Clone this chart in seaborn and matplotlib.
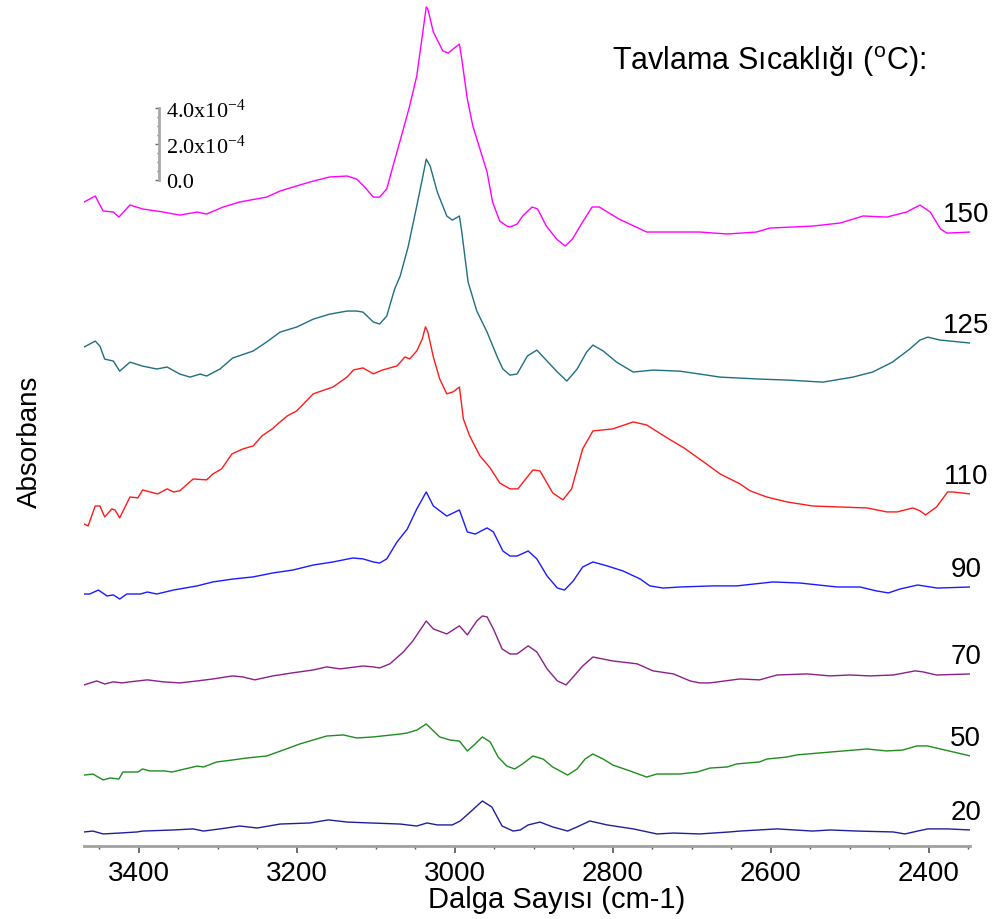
import numpy as np
import pandas as pd
import matplotlib
matplotlib.use("Agg")
import matplotlib.pyplot as plt
import seaborn as sns
from matplotlib.ticker import MultipleLocator

# ---------------- data (absorbance in units of 1e-4, relative to each trace's right-end baseline) ----
temps = ["150", "125", "110", "90", "70", "50", "20"]
offsets = [34.11, 27.94, 19.56, 14.39, 9.56, 5.0, 0.89]   # vertical stacking offsets (1e-4 units)
colors = ["#ff00ff", "#1f6e82", "#ff1a1a", "#1a1aff", "#8b1f8b", "#1f8c1f", "#1f1f99"]

wn_150 = [3469, 3455, 3445, 3432, 3425, 3411, 3395, 3369, 3348, 3326, 3314, 3293, 3272, 3238, 3221,
          3200, 3179, 3158, 3136, 3124, 3114, 3103, 3095, 3086, 3078, 3066, 3057, 3048, 3041, 3036,
          3034, 3027, 3015, 3008, 3002, 2994, 2991, 2984, 2977, 2968, 2959, 2952, 2943, 2934, 2930,
          2921, 2914, 2902, 2895, 2884, 2871, 2860, 2851, 2838, 2826, 2817, 2792, 2757, 2716, 2690,
          2655, 2618, 2601, 2547, 2512, 2483, 2453, 2428, 2411, 2398, 2385, 2377, 2347]
abs_150 = [1.67, 2.0, 1.17, 1.11, 0.83, 1.5, 1.28, 1.11, 0.94, 1.11, 1.0, 1.39, 1.67, 1.94, 2.28,
           2.56, 2.83, 3.06, 3.11, 2.94, 2.5, 1.94, 1.94, 2.39, 3.67, 5.56, 7.0, 8.67, 10.89, 12.5,
           12.39, 11.11, 10.06, 9.94, 10.17, 10.44, 9.61, 7.39, 5.89, 4.61, 3.33, 1.67, 0.61, 0.33, 0.28,
           0.44, 0.89, 1.39, 1.28, 0.33, -0.39, -0.78, -0.39, 0.56, 1.39, 1.39, 0.72, 0, 0, 0,
           -0.11, 0, 0.22, 0.33, 0.5, 0.89, 0.83, 1.11, 1.5, 1.11, 0.17, -0.06, 0]

wn_125 = [3469, 3455, 3449, 3443, 3432, 3424, 3411, 3395, 3377, 3364, 3348, 3335, 3322, 3314, 3297,
          3281, 3255, 3238, 3221, 3200, 3179, 3158, 3136, 3124, 3116, 3103, 3095, 3086, 3076, 3069,
          3059, 3048, 3041, 3036, 3031, 3022, 3010, 3003, 2994, 2991, 2983, 2972, 2959, 2946, 2939,
          2930, 2921, 2908, 2896, 2883, 2870, 2858, 2845, 2833, 2825, 2812, 2795, 2774, 2749, 2715,
          2690, 2664, 2614, 2576, 2534, 2496, 2471, 2446, 2424, 2411, 2401, 2386, 2347]
abs_125 = [-0.22, 0.11, -0.17, -0.89, -1.0, -1.56, -1.06, -1.28, -1.44, -1.33, -1.72, -1.89, -1.72, -1.83, -1.44,
           -0.83, -0.44, 0.06, 0.61, 0.89, 1.33, 1.61, 1.78, 1.78, 1.72, 1.17, 1.06, 1.5, 3.0, 3.72,
           5.33, 7.61, 9.11, 10.22, 9.83, 8.39, 7.06, 6.83, 7.06, 6.17, 3.39, 1.78, 0.61, -0.78, -1.44,
           -1.78, -1.72, -0.72, -0.39, -1.0, -1.61, -2.11, -1.44, -0.5, -0.11, -0.44, -1.06, -1.61, -1.5, -1.56,
           -1.72, -1.89, -2.0, -2.06, -2.17, -1.89, -1.61, -1.06, -0.33, 0.17, 0.33, 0.17, 0]

wn_110 = [3469, 3464, 3455, 3449, 3443, 3434, 3430, 3424, 3411, 3401, 3395, 3376, 3364, 3356, 3348,
          3331, 3314, 3306, 3295, 3282, 3268, 3255, 3244, 3231, 3221, 3212, 3200, 3179, 3154, 3136,
          3128, 3116, 3103, 3091, 3073, 3063, 3057, 3048, 3041, 3037, 3034, 3027, 3019, 3010, 3002,
          2994, 2989, 2981, 2968, 2955, 2943, 2930, 2920, 2901, 2892, 2876, 2863, 2852, 2838, 2825,
          2800, 2774, 2757, 2731, 2710, 2690, 2664, 2639, 2626, 2605, 2580, 2547, 2478, 2453, 2440,
          2420, 2411, 2404, 2390, 2376, 2370, 2347]
abs_110 = [-1.67, -1.78, -0.67, -0.67, -1.28, -0.83, -0.89, -1.33, -0.17, -0.22, 0.22, 0, 0.28, 0.11, 0.17,
           0.83, 0.78, 1.11, 1.39, 2.22, 2.5, 2.67, 3.22, 3.61, 4.0, 4.33, 4.61, 5.56, 5.94, 6.5,
           6.89, 7.0, 6.67, 6.89, 7.11, 7.61, 7.5, 7.94, 8.61, 9.28, 9.0, 7.61, 6.39, 5.56, 5.67,
           5.94, 4.17, 3.22, 2.11, 1.44, 0.61, 0.28, 0.28, 1.33, 1.28, 0.06, -0.33, 0.28, 2.5, 3.5,
           3.61, 4.0, 3.83, 3.11, 2.56, 1.94, 1.11, 0.56, 0.17, -0.17, -0.44, -0.67, -0.78, -1.0, -1.0,
           -0.78, -0.94, -1.17, -0.72, 0.11, 0.11, 0]

wn_90 = [3469, 3462, 3451, 3440, 3432, 3424, 3415, 3398, 3389, 3377, 3356, 3326, 3306, 3281, 3255,
         3230, 3205, 3179, 3154, 3129, 3116, 3103, 3095, 3086, 3073, 3060, 3048, 3036, 3027, 3010,
         2994, 2984, 2974, 2959, 2951, 2939, 2930, 2921, 2907, 2896, 2883, 2870, 2861, 2850, 2838,
         2825, 2807, 2787, 2765, 2753, 2736, 2715, 2673, 2643, 2597, 2563, 2516, 2487, 2466, 2451,
         2436, 2414, 2389, 2347]
abs_90 = [-0.39, -0.39, -0.17, -0.5, -0.44, -0.67, -0.39, -0.39, -0.28, -0.39, -0.17, 0.06, 0.28, 0.44, 0.56,
          0.78, 0.94, 1.22, 1.39, 1.61, 1.56, 1.39, 1.33, 1.56, 2.5, 3.22, 4.33, 5.28, 4.5, 3.94,
          4.28, 3.06, 2.94, 3.28, 3.06, 2.0, 1.72, 1.72, 2.0, 1.56, 0.61, -0.06, -0.17, 0.33, 1.11,
          1.39, 1.17, 0.89, 0.44, 0.06, -0.06, 0, 0.06, 0.06, 0.28, 0.22, 0, 0, -0.22, -0.33,
          -0.11, 0.11, -0.06, 0]

wn_70 = [3469, 3453, 3443, 3432, 3421, 3411, 3389, 3369, 3348, 3326, 3306, 3281, 3268, 3253, 3230,
         3205, 3179, 3162, 3145, 3116, 3103, 3095, 3082, 3065, 3053, 3036, 3027, 3010, 2994, 2984,
         2972, 2965, 2959, 2951, 2940, 2930, 2921, 2907, 2896, 2883, 2870, 2859, 2850, 2838, 2825,
         2800, 2769, 2749, 2723, 2702, 2690, 2677, 2639, 2614, 2592, 2554, 2525, 2500, 2474, 2445,
         2417, 2407, 2390, 2347]
abs_70 = [-0.61, -0.39, -0.56, -0.44, -0.5, -0.44, -0.33, -0.44, -0.5, -0.39, -0.28, -0.11, -0.17, -0.33, -0.11,
          0.06, 0.22, 0.39, 0.28, 0.44, 0.39, 0.33, 0.56, 1.22, 1.83, 2.94, 2.5, 2.22, 2.67, 2.17,
          2.94, 3.22, 3.17, 2.5, 1.39, 1.11, 1.11, 1.56, 1.22, 0.28, -0.39, -0.61, -0.17, 0.44, 0.94,
          0.72, 0.56, 0.17, 0, -0.39, -0.5, -0.5, -0.28, -0.33, -0.06, 0, -0.11, -0.06, -0.11, -0.06,
          0.17, 0.11, -0.06, 0]

wn_50 = [3469, 3458, 3445, 3436, 3425, 3420, 3401, 3395, 3386, 3367, 3358, 3326, 3318, 3301, 3281,
         3263, 3238, 3217, 3196, 3162, 3141, 3124, 3103, 3069, 3060, 3048, 3036, 3019, 3006, 2994,
         2984, 2974, 2965, 2955, 2945, 2934, 2924, 2914, 2901, 2888, 2876, 2857, 2845, 2835, 2825,
         2812, 2800, 2778, 2757, 2744, 2715, 2693, 2677, 2655, 2643, 2614, 2605, 2580, 2567, 2538,
         2508, 2478, 2453, 2433, 2415, 2402, 2390, 2347]
abs_50 = [-1.06, -1.0, -1.33, -1.22, -1.28, -0.89, -0.89, -0.72, -0.83, -0.83, -0.89, -0.56, -0.61, -0.33, -0.22,
          -0.11, 0, 0.33, 0.67, 1.11, 1.17, 1.0, 1.06, 1.22, 1.28, 1.44, 1.78, 1.06, 0.89, 0.83,
          0.28, 0.67, 1.06, 0.78, -0.06, -0.56, -0.72, -0.44, 0, -0.17, -0.61, -1.06, -0.72, -0.17, 0.11,
          -0.17, -0.5, -0.83, -1.17, -1.0, -1.0, -0.89, -0.67, -0.61, -0.44, -0.33, -0.17, -0.06, 0.06, 0.17,
          0.28, 0.39, 0.28, 0.33, 0.56, 0.56, 0.44, 0]

wn_20 = [3469, 3458, 3445, 3424, 3402, 3395, 3356, 3331, 3318, 3297, 3272, 3250, 3221, 3183, 3160,
         3136, 3107, 3069, 3048, 3035, 3022, 3003, 2993, 2983, 2965, 2953, 2940, 2926, 2917, 2907,
         2892, 2876, 2857, 2845, 2829, 2807, 2774, 2744, 2723, 2690, 2652, 2639, 2592, 2547, 2525,
         2490, 2445, 2430, 2414, 2401, 2376, 2347]
abs_20 = [-0.11, -0.06, -0.22, -0.17, -0.11, -0.06, 0, 0.06, -0.06, 0.06, 0.22, 0.11, 0.33, 0.39, 0.56,
          0.44, 0.39, 0.33, 0.22, 0.39, 0.28, 0.28, 0.5, 0.89, 1.61, 1.28, 0.22, -0.06, 0, 0.28,
          0.44, 0.17, -0.06, 0.17, 0.5, 0.28, 0.06, -0.22, -0.17, -0.22, -0.11, -0.06, 0.06, -0.06, 0,
          -0.06, -0.11, -0.22, -0.06, 0.06, 0.06, 0]

x_ticks = [3400, 3200, 3000, 2800, 2600, 2400]
scale_ticks = [0.0, 2e-4, 4e-4]
scale_labels = ["0.0", "2.0x10$^{-4}$", "4.0x10$^{-4}$"]

# ---------------- build long-form table ----------------
wns = [wn_150, wn_125, wn_110, wn_90, wn_70, wn_50, wn_20]
abss = [abs_150, abs_125, abs_110, abs_90, abs_70, abs_50, abs_20]
frames = []
for t, wn, a, off in zip(temps, wns, abss, offsets):
    frames.append(pd.DataFrame({"wn": wn, "A": np.array(a, dtype=float) + off, "T": t}))
df = pd.concat(frames, ignore_index=True)

# ---------------- style ----------------
sns.set_style("white")
plt.rcParams["font.family"] = ["Liberation Sans", "DejaVu Sans"]
plt.rcParams["mathtext.default"] = "regular"
plt.rcParams["axes.unicode_minus"] = False
plt.rcParams["text.color"] = "black"
plt.rcParams["axes.labelcolor"] = "black"
plt.rcParams["xtick.labelcolor"] = "black"
plt.rcParams["ytick.labelcolor"] = "black"

fig = plt.figure(figsize=(10, 9.2), dpi=100)
ax = fig.add_axes([0.084, 1 - 847 / 920, 0.886, 847 / 920])

sns.lineplot(data=df, x="wn", y="A", hue="T", hue_order=temps,
             palette=dict(zip(temps, colors)), estimator=None, sort=False,
             legend=False, lw=1.0, ax=ax)

ax.set_xlim(3469.2, 2347.7)
ax.set_ylim(0, 847 / 18)

for s in ["left", "top", "right"]:
    ax.spines[s].set_visible(False)
ax.spines["bottom"].set_color("#a0a0a0")
ax.spines["bottom"].set_linewidth(2)
ax.set_yticks([])
ax.xaxis.set_major_locator(plt.FixedLocator(x_ticks))
ax.xaxis.set_minor_locator(MultipleLocator(50))
ax.tick_params(axis="x", which="both", bottom=True, direction="out", color="#555555")
ax.tick_params(axis="x", which="major", length=5, width=1.2, labelsize=20, pad=5,
               labelcolor="black")
ax.tick_params(axis="x", which="minor", length=2.5, width=1.0)

ax.set_xlabel("Dalga Sayısı (cm-1)", fontsize=21, color="black")
ax.xaxis.label.set_va("center")
ax.xaxis.set_label_coords(0.534, -0.0626)
ax.set_ylabel("Absorbans", fontsize=20, color="black")
ax.yaxis.label.set_va("center")
ax.yaxis.set_label_coords(-0.061, 0.478)

# curve labels
for t, off in zip(temps, offsets):
    ax.text(2353, off + 1.0, t, ha="center", va="center", fontsize=20, color="black")

fig.text(0.612, 1 - 62 / 920, "Tavlama Sıcaklığı ($^{o}$C):", ha="left", va="center",
         fontsize=22, color="black")

# ---------------- absorbance scale bar ----------------
sb = ax.inset_axes([(159 - 84) / 886, 37.0, 0.0005, 4.0], transform=ax.get_yaxis_transform())
sb.set_ylim(0, 4e-4)
sb.set_xlim(0, 1)
sb.patch.set_visible(False)
for s in ["top", "right", "bottom"]:
    sb.spines[s].set_visible(False)
sb.spines["left"].set_color("#a8a8a8")
sb.spines["left"].set_linewidth(2)
sb.set_xticks([])
sb.set_yticks(scale_ticks)
sb.set_yticklabels(scale_labels)
sb.yaxis.set_minor_locator(MultipleLocator(0.5e-4))
sb.tick_params(axis="y", which="both", left=True, right=False, labelleft=False,
               labelright=True, direction="out", color="#666666")
sb.tick_params(axis="y", which="major", length=3, width=1, labelsize=16, pad=2,
               labelfontfamily="Liberation Serif", labelcolor="black")
sb.tick_params(axis="y", which="minor", length=1.5, width=1)

fig.savefig("out.png", dpi=100)
